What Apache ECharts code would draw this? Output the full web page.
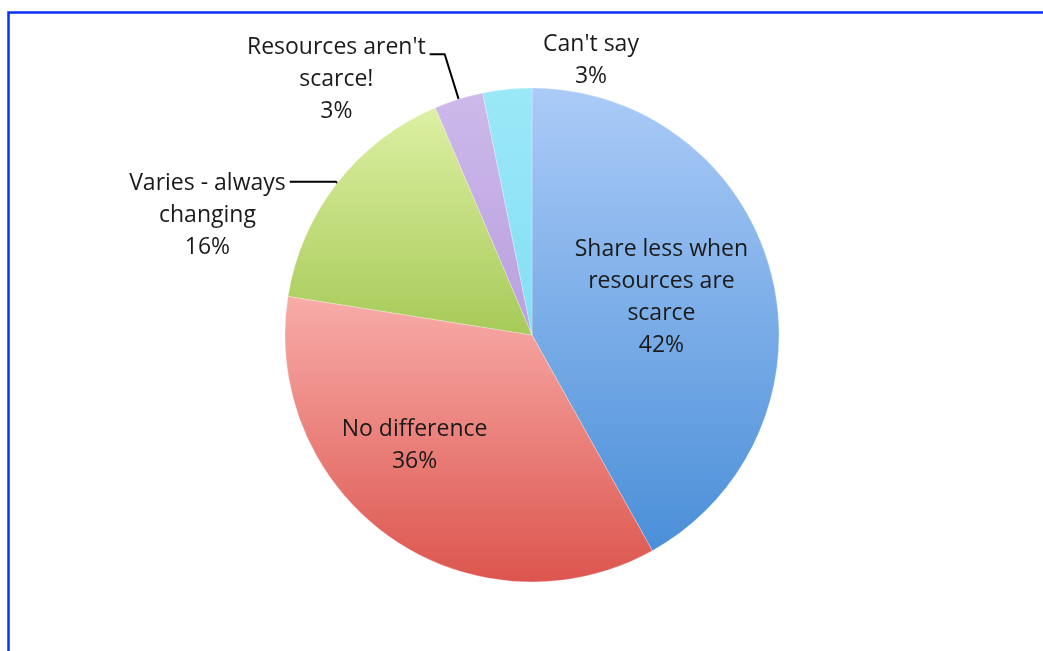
<!DOCTYPE html>
<html>
<head>
<meta charset="utf-8">
<script src="https://cdn.jsdelivr.net/npm/echarts@6/dist/echarts.min.js"></script>
<style>
html,body{margin:0;padding:0;background:#fff;}
#chart{width:1043px;height:651px;}
</style>
</head>
<body>
<div id="chart"></div>
<script>
const categories = ["Share less when\nresources are\nscarce", "No difference", "Varies - always\nchanging", "Resources aren't\nscarce!", "Can't say"];
const values = [41.9, 35.6, 16.1, 3.2, 3.2];
const percentLabels = ["42%", "36%", "16%", "3%", "3%"];
const colorTop = ["#abcbf7", "#f8aca8", "#ddf0a3", "#cdb9ea", "#9ae8f8"];
const colorBottom = ["#4a8fd8", "#dc554e", "#a6ca58", "#b9a0df", "#84dff4"];

const FONT = "Open Sans";
const chart = echarts.init(document.getElementById('chart'));

function grad(i){
  return new echarts.graphic.LinearGradient(0,0,0,1,[
    {offset:0,color:colorTop[i]},{offset:1,color:colorBottom[i]}
  ]);
}

const baseText = {fontFamily: FONT, fontSize: 23, color: '#1a1a1a', lineHeight: 32, align:'center'};
const fmt = p => '{a|' + p.name.split('\n').join('}\n{a|') + '}\n{a|' + percentLabels[p.dataIndex] + '}';

const labelCfg = [
  {show:true, position:'inside', formatter:fmt, offset:[7,-6], rich:{a:baseText}},
  {show:true, position:'inside', formatter:fmt, offset:[-45,7], rich:{a:baseText}},
  {show:true, position:'outside', formatter:fmt, padding:[68,0,0,0], distanceToLabelLine:4, rich:{a:baseText}},
  {show:true, position:'outside', formatter:fmt, padding:[50,0,0,0], distanceToLabelLine:4, rich:{a:baseText}},
  {show:true, position:'outside', formatter:fmt, rich:{a:baseText}}
];
const lineCfg = [
  {show:false},
  {show:false},
  {show:true, length:2, length2:46, smooth:false, lineStyle:{color:'#000', width:2}},
  {show:true, length:47, length2:15, smooth:false, lineStyle:{color:'#000', width:2}},
  {show:false}
];

const data = categories.map((c,i)=>({
  name:c, value:values[i],
  itemStyle:{color:grad(i)},
  label:labelCfg[i],
  labelLine:lineCfg[i]
}));

chart.setOption({
  animation:false,
  backgroundColor:'#ffffff',
  graphic:[{
    type:'rect', silent:true,
    shape:{x:8.5, y:12.5, width:1100, height:700},
    style:{fill:null, stroke:'#0a32f5', lineWidth:2.5}
  }],
  series:[{
    type:'pie',
    center:[532,335],
    radius:[0,247],
    startAngle:90,
    clockwise:true,
    avoidLabelOverlap:false,
    itemStyle:{borderColor:'rgba(255,255,255,0.5)', borderWidth:0.5},
    labelLayout:function(p){
      if(p.dataIndex===4){
        return {x:591, y:60, align:'center', verticalAlign:'middle'};
      }
      return {};
    },
    data:data
  }]
});
</script>
</body>
</html>
